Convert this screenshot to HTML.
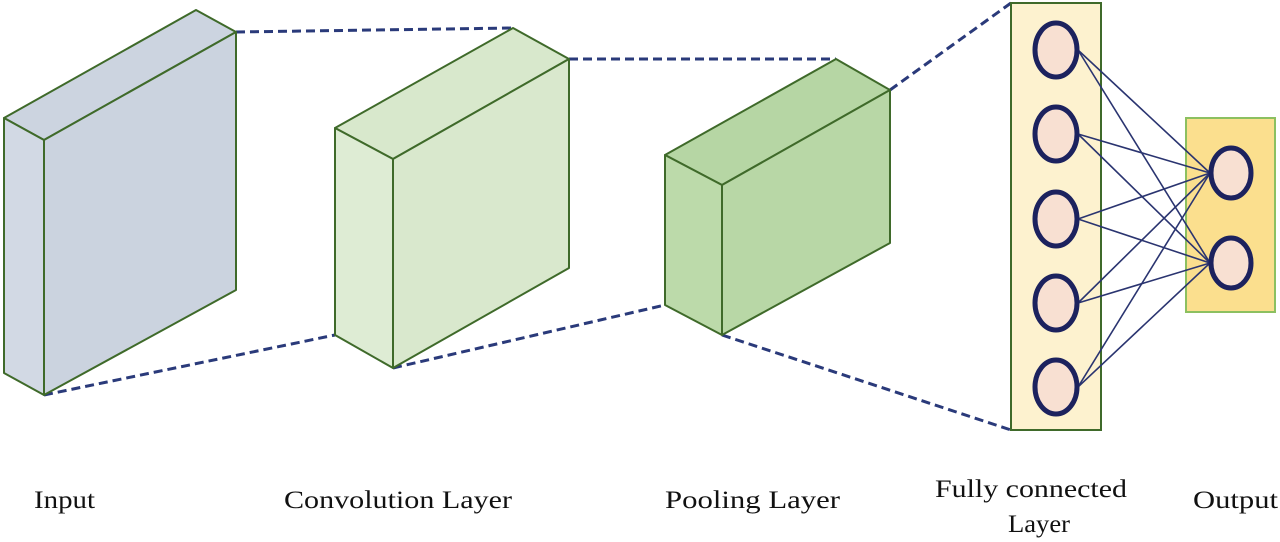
<!DOCTYPE html>
<html><head><style>
html,body{margin:0;padding:0;background:#fff;width:1280px;height:542px;overflow:hidden}
svg text{font-family:"Liberation Serif",serif;font-size:25px;fill:#111}
</style></head><body>
<svg width="1280" height="542" viewBox="0 0 1280 542" xmlns="http://www.w3.org/2000/svg">
<g stroke="#2a3a7a" stroke-width="3" stroke-dasharray="9,5" fill="none">
<line x1="236" y1="32" x2="513" y2="28"/>
<line x1="44" y1="395" x2="335" y2="335"/>
<line x1="569" y1="59" x2="836" y2="59"/>
<line x1="393" y1="368" x2="665" y2="305"/>
<line x1="890" y1="90" x2="1011" y2="3"/>
<line x1="722" y1="335" x2="1011" y2="430"/>
</g>
<g stroke="#3f6a2a" stroke-width="2" stroke-linejoin="round">
<polygon points="4,118 196,10 236,32 44,140" fill="#ccd4e0"/>
<polygon points="4,118 44,140 44,395 4,373" fill="#d2d9e4"/>
<polygon points="44,140 236,32 236,290 44,395" fill="#cbd3df"/>
<polygon points="335,128 513,28 569,59 393,159" fill="#d8e8cc"/>
<polygon points="335,128 393,159 393,368 335,335" fill="#deecd4"/>
<polygon points="393,159 569,59 569,268 393,368" fill="#d9e8cd"/>
<polygon points="665,155 836,59 890,90 722,185" fill="#b6d6a4"/>
<polygon points="665,155 722,185 722,335 665,305" fill="#bcdaaa"/>
<polygon points="722,185 890,90 890,243 722,335" fill="#b8d7a6"/>
</g>
<rect x="1011" y="3" width="90" height="427" fill="#fdf2cf" stroke="#3f6a2a" stroke-width="2"/>
<rect x="1186" y="118" width="89" height="194" fill="#fbdf8e" stroke="#8cc060" stroke-width="2"/>
<g stroke="#2a3470" stroke-width="1.6">
<line x1="1078" y1="50" x2="1210" y2="173"/><line x1="1078" y1="50" x2="1210" y2="263"/>
<line x1="1078" y1="134" x2="1210" y2="173"/><line x1="1078" y1="134" x2="1210" y2="263"/>
<line x1="1078" y1="219" x2="1210" y2="173"/><line x1="1078" y1="219" x2="1210" y2="263"/>
<line x1="1078" y1="303" x2="1210" y2="173"/><line x1="1078" y1="303" x2="1210" y2="263"/>
<line x1="1078" y1="387" x2="1210" y2="173"/><line x1="1078" y1="387" x2="1210" y2="263"/>
</g>
<g fill="#f8e0d2" stroke="#1c225e" stroke-width="5">
<ellipse cx="1056" cy="50" rx="21" ry="27"/>
<ellipse cx="1056" cy="134" rx="21" ry="27"/>
<ellipse cx="1056" cy="219" rx="21" ry="27"/>
<ellipse cx="1056" cy="303" rx="21" ry="27"/>
<ellipse cx="1056" cy="387" rx="21" ry="27"/>
<ellipse cx="1231" cy="173" rx="20" ry="25"/>
<ellipse cx="1231" cy="263" rx="20" ry="25"/>
</g>
<text x="34" y="508" textLength="61" lengthAdjust="spacingAndGlyphs">Input</text>
<text x="284" y="508" textLength="228" lengthAdjust="spacingAndGlyphs">Convolution Layer</text>
<text x="665" y="508" textLength="175" lengthAdjust="spacingAndGlyphs">Pooling Layer</text>
<text x="935" y="497" textLength="192" lengthAdjust="spacingAndGlyphs">Fully connected</text>
<text x="1008" y="532" textLength="62" lengthAdjust="spacingAndGlyphs">Layer</text>
<text x="1193" y="508" textLength="85" lengthAdjust="spacingAndGlyphs">Output</text>
</svg>
</body></html>
